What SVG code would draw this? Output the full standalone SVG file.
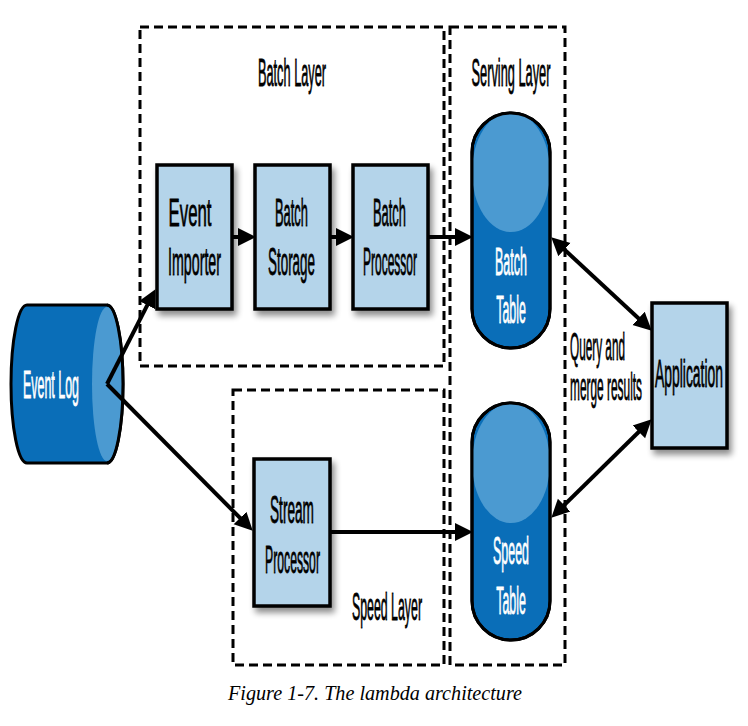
<svg xmlns="http://www.w3.org/2000/svg" width="748" height="726" viewBox="0 0 748 726">
<defs>
<style>
.layer{fill:none;stroke:#000;stroke-width:3;stroke-dasharray:9 5}
.box{fill:#b4d4ea;stroke:#000;stroke-width:3.5}
.dark{fill:#0a6eb8;stroke:#000;stroke-width:3}
.light{fill:#4b9ad1}
.t{font-family:"Liberation Sans",Arial,sans-serif;font-size:39px;fill:#000;stroke:#000;stroke-width:0.6;vector-effect:non-scaling-stroke;text-anchor:middle}
.w{fill:#fff;stroke:#fff}
.edge{stroke:#000;stroke-width:4;fill:none}
.cap{font-family:"Liberation Serif","Times New Roman",serif;font-style:italic;font-size:20px;fill:#000}
</style>
<filter id="sh" x="-20%" y="-20%" width="150%" height="150%">
<feGaussianBlur in="SourceAlpha" stdDeviation="3"/>
<feOffset dx="3" dy="5" result="b"/>
<feComponentTransfer><feFuncA type="linear" slope="0.45"/></feComponentTransfer>
<feMerge><feMergeNode/><feMergeNode in="SourceGraphic"/></feMerge>
</filter>
<marker id="ah" markerUnits="userSpaceOnUse" markerWidth="18" markerHeight="20" viewBox="0 0 18 20" refX="13" refY="10" orient="auto-start-reverse">
<path d="M0,1 L18,10 L0,19 z" fill="#000"/>
</marker>
<clipPath id="cb"><rect x="472" y="113" width="78" height="235" rx="39"/></clipPath>
<clipPath id="cs"><rect x="472" y="403" width="78" height="237" rx="39"/></clipPath>
</defs>

<g id="batch-layer">
<rect class="layer" x="140" y="27" width="304" height="339"/>
<text class="t" transform="translate(292,86) scale(0.327,1)">Batch Layer</text>
</g>
<g id="serving-layer">
<rect class="layer" x="450" y="27" width="115" height="638"/>
<text class="t" transform="translate(511,86) scale(0.328,1)">Serving Layer</text>
</g>
<g id="speed-layer">
<rect class="layer" x="233" y="390" width="211" height="275"/>
<text class="t" transform="translate(387,620) scale(0.317,1)">Speed Layer</text>
</g>

<g id="event-log">
<path class="dark" d="M27,305 L107,305 A16,79 0 0 1 107,463 L27,463 A16,79 0 0 1 27,305 Z"/>
<ellipse class="light" cx="107" cy="384" rx="15" ry="77"/>
<path d="M107,305 A16,79 0 0 1 107,463" fill="none" stroke="#000" stroke-width="3"/>
<text class="t w" transform="translate(51,398) scale(0.319,1)">Event Log</text>
</g>

<g id="event-importer">
<rect class="box" filter="url(#sh)" x="157" y="165" width="75" height="144"/>
<text class="t" transform="translate(190,226) scale(0.431,1)">Event</text>
<text class="t" transform="translate(194.5,275) scale(0.365,1)">Importer</text>
</g>
<g id="batch-storage">
<rect class="box" filter="url(#sh)" x="255" y="165" width="75" height="144"/>
<text class="t" transform="translate(291.5,226) scale(0.331,1)">Batch</text>
<text class="t" transform="translate(291.5,275) scale(0.344,1)">Storage</text>
</g>
<g id="batch-processor">
<rect class="box" filter="url(#sh)" x="353" y="165" width="75" height="144"/>
<text class="t" transform="translate(389.5,226) scale(0.331,1)">Batch</text>
<text class="t" transform="translate(390,275) scale(0.308,1)">Processor</text>
</g>
<g id="stream-processor">
<rect class="box" filter="url(#sh)" x="254" y="459" width="76" height="147"/>
<text class="t" transform="translate(292,523) scale(0.35,1)">Stream</text>
<text class="t" transform="translate(292.5,573) scale(0.313,1)">Processor</text>
</g>

<g id="batch-table">
<rect class="dark" x="472" y="113" width="78" height="235" rx="39"/>
<ellipse class="light" clip-path="url(#cb)" cx="511" cy="172" rx="39" ry="60"/>
<rect x="472" y="113" width="78" height="235" rx="39" fill="none" stroke="#000" stroke-width="3"/>
<text class="t w" transform="translate(511,275) scale(0.321,1)">Batch</text>
<text class="t w" transform="translate(511,323) scale(0.318,1)">Table</text>
</g>
<g id="speed-table">
<rect class="dark" x="472" y="403" width="78" height="237" rx="39"/>
<ellipse class="light" clip-path="url(#cs)" cx="511" cy="463" rx="39" ry="60"/>
<rect x="472" y="403" width="78" height="237" rx="39" fill="none" stroke="#000" stroke-width="3"/>
<text class="t w" transform="translate(511,564) scale(0.319,1)">Speed</text>
<text class="t w" transform="translate(511,614) scale(0.318,1)">Table</text>
</g>

<g id="application">
<rect class="box" filter="url(#sh)" x="652" y="303" width="75" height="145"/>
<text class="t" transform="translate(689,387) scale(0.357,1)">Application</text>
</g>

<g id="connectors">
<line class="edge" x1="107" y1="384" x2="153.2" y2="293.6" marker-end="url(#ah)"/>
<line class="edge" x1="107" y1="384" x2="249.2" y2="527.2" marker-end="url(#ah)"/>
<line class="edge" x1="232" y1="237" x2="251" y2="237" marker-end="url(#ah)"/>
<line class="edge" x1="330" y1="237" x2="349" y2="237" marker-end="url(#ah)"/>
<line class="edge" x1="428" y1="237" x2="468" y2="237" marker-end="url(#ah)"/>
<line class="edge" x1="330" y1="532" x2="468" y2="532" marker-end="url(#ah)"/>
<line class="edge" x1="554.9" y1="240.7" x2="648.1" y2="327.3" marker-start="url(#ah)" marker-end="url(#ah)"/>
<line class="edge" x1="554.9" y1="514.2" x2="648.1" y2="422.8" marker-start="url(#ah)" marker-end="url(#ah)"/>
<text class="t" transform="translate(597.5,360) scale(0.302,1)">Query and</text>
<text class="t" transform="translate(606,400) scale(0.305,1)">merge results</text>
</g>

<text class="cap" x="228" y="700" textLength="294" lengthAdjust="spacingAndGlyphs">Figure 1-7. The lambda architecture</text>
</svg>
